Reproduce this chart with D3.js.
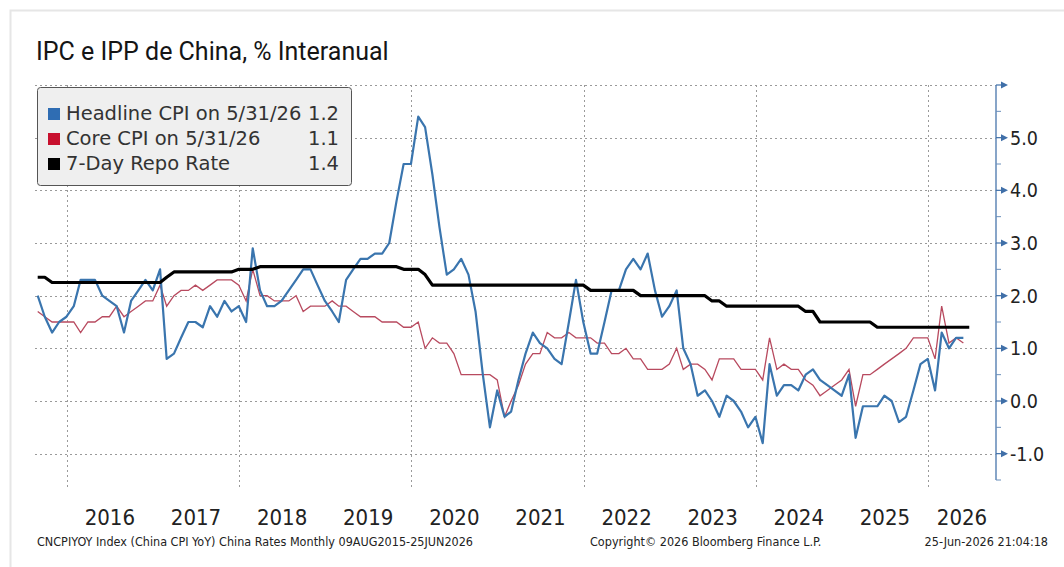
<!DOCTYPE html>
<html lang="es">
	<head>
		<meta charset="utf-8">
		<title>IPC e IPP de China</title>
		<script src="https://d3js.org/d3.v7.min.js"></script>
		<style>
			body { margin: 0; background: white; }
			.grid { stroke: #9a9a9a; stroke-width: 1; stroke-dasharray: 2,3; }
			.lbl { font-family: "DejaVu Sans Condensed", "DejaVu Sans", sans-serif; fill: #222; }
			.leg { font-family: "DejaVu Sans", sans-serif; font-size: 19.5px; fill: #333; }
		</style>
	</head>
	<body>
		<script type="text/javascript">

			//    Data: monthly, first value = Aug 2015 (plotted at month end)
			var startYear = 2015, startMonth = 7;
			var headlineCpi = [
				2.0, 1.6, 1.3, 1.5, 1.6,
				1.8, 2.3, 2.3, 2.3, 2.0, 1.9, 1.8, 1.3, 1.9, 2.1, 2.3, 2.1,
				2.5, 0.8, 0.9, 1.2, 1.5, 1.5, 1.4, 1.8, 1.6, 1.9, 1.7, 1.8,
				1.5, 2.9, 2.1, 1.8, 1.8, 1.9, 2.1, 2.3, 2.5, 2.5, 2.2, 1.9,
				1.7, 1.5, 2.3, 2.5, 2.7, 2.7, 2.8, 2.8, 3.0, 3.8, 4.5, 4.5,
				5.4, 5.2, 4.3, 3.3, 2.4, 2.5, 2.7, 2.4, 1.7, 0.5, -0.5, 0.2,
				-0.3, -0.2, 0.4, 0.9, 1.3, 1.1, 1.0, 0.8, 0.7, 1.5, 2.3, 1.5,
				0.9, 0.9, 1.5, 2.1, 2.1, 2.5, 2.7, 2.5, 2.8, 2.1, 1.6, 1.8,
				2.1, 1.0, 0.7, 0.1, 0.2, 0.0, -0.3, 0.1, 0.0, -0.2, -0.5, -0.3,
				-0.8, 0.7, 0.1, 0.3, 0.3, 0.2, 0.5, 0.6, 0.4, 0.3, 0.2, 0.1,
				0.5, -0.7, -0.1, -0.1, -0.1, 0.1, 0.0, -0.4, -0.3, 0.2, 0.7, 0.8,
				0.2, 1.3, 1.0, 1.2, 1.2
			];
			var coreCpi = [
				1.7, 1.6, 1.5, 1.5, 1.5,
				1.5, 1.3, 1.5, 1.5, 1.6, 1.6, 1.8, 1.6, 1.7, 1.8, 1.9, 1.9,
				2.2, 1.8, 2.0, 2.1, 2.1, 2.2, 2.1, 2.2, 2.3, 2.3, 2.3, 2.2,
				1.9, 2.5, 2.0, 2.0, 1.9, 1.9, 1.9, 2.0, 1.7, 1.8, 1.8, 1.8,
				1.9, 1.8, 1.8, 1.7, 1.6, 1.6, 1.6, 1.5, 1.5, 1.5, 1.4, 1.4,
				1.5, 1.0, 1.2, 1.1, 1.1, 0.9, 0.5, 0.5, 0.5, 0.5, 0.5, 0.4,
				-0.3, 0.0, 0.3, 0.7, 0.9, 0.9, 1.3, 1.2, 1.2, 1.3, 1.2, 1.2,
				1.2, 1.1, 1.1, 0.9, 0.9, 1.0, 0.8, 0.8, 0.6, 0.6, 0.6, 0.7,
				1.0, 0.6, 0.7, 0.7, 0.6, 0.4, 0.8, 0.8, 0.8, 0.6, 0.6, 0.6,
				0.4, 1.2, 0.6, 0.7, 0.6, 0.6, 0.4, 0.3, 0.1, 0.2, 0.3, 0.4,
				0.6, -0.1, 0.5, 0.5, 0.6, 0.7, 0.8, 0.9, 1.0, 1.2, 1.2, 1.2,
				0.8, 1.8, 1.1, 1.2, 1.1
			];
			var repoRate = [
				2.35, 2.35, 2.25, 2.25, 2.25,
				2.25, 2.25, 2.25, 2.25, 2.25, 2.25, 2.25, 2.25, 2.25, 2.25, 2.25, 2.25,
				2.25, 2.35, 2.45, 2.45, 2.45, 2.45, 2.45, 2.45, 2.45, 2.45, 2.45, 2.5,
				2.5, 2.5, 2.55, 2.55, 2.55, 2.55, 2.55, 2.55, 2.55, 2.55, 2.55, 2.55,
				2.55, 2.55, 2.55, 2.55, 2.55, 2.55, 2.55, 2.55, 2.55, 2.55, 2.5, 2.5,
				2.5, 2.4, 2.2, 2.2, 2.2, 2.2, 2.2, 2.2, 2.2, 2.2, 2.2, 2.2,
				2.2, 2.2, 2.2, 2.2, 2.2, 2.2, 2.2, 2.2, 2.2, 2.2, 2.2, 2.2,
				2.1, 2.1, 2.1, 2.1, 2.1, 2.1, 2.1, 2.0, 2.0, 2.0, 2.0, 2.0,
				2.0, 2.0, 2.0, 2.0, 2.0, 1.9, 1.9, 1.8, 1.8, 1.8, 1.8, 1.8,
				1.8, 1.8, 1.8, 1.8, 1.8, 1.8, 1.7, 1.7, 1.5, 1.5, 1.5, 1.5,
				1.5, 1.5, 1.5, 1.5, 1.4, 1.4, 1.4, 1.4, 1.4, 1.4, 1.4, 1.4,
				1.4, 1.4, 1.4, 1.4, 1.4, 1.4
			];

			//    Tick labels / legend
			var yTicks = [-1, 0, 1, 2, 3, 4, 5, 6];
			var yMinor = [-1.5, -0.5, 0.5, 1.5, 2.5, 3.5, 4.5, 5.5];
			var yearLabels = [2016, 2017, 2018, 2019, 2020, 2021, 2022, 2023, 2024, 2025, 2026];
			var gridYears = [2016, 2018, 2020, 2022, 2024, 2026];
			var legendNames = ["Headline CPI on 5/31/26", "Core CPI on 5/31/26", "7-Day Repo Rate"];
			var legendValues = ["1.2", "1.1", "1.4"];
			var legendColors = ["#2f6db3", "#c8102e", "#000000"];

			var w = 1064, h = 567;
			var plotLeft = 35, plotRight = 996, plotTop = 85, plotBottom = 480;

			//    Scales
			var x_scale = d3.scaleTime()
				.domain([new Date(2016, 0, 1), new Date(2026, 0, 1)])
				.range([66.7, 928]);
			var y_scale = d3.scaleLinear().domain([-1.5, 6]).range([plotBottom, plotTop]);

			function monthEnd(i) { return new Date(startYear, startMonth + i + 1, 0); }
			function toPoints(arr) {
				return arr.map(function(v, i) { return { date: monthEnd(i), value: v }; });
			}

			var svg = d3.select("body").append("svg").attr("width", w).attr("height", h);
			svg.append("rect").attr("width", w).attr("height", h).attr("fill", "white");

			//    Card frame
			svg.append("rect").attr("x", 10.5).attr("y", 10.5).attr("width", 1100).attr("height", 620)
				.attr("fill", "none").attr("stroke", "#e6e6e6").attr("stroke-width", 2);

			//    Title
			svg.append("text").attr("x", 36).attr("y", 60).text("IPC e IPP de China, % Interanual")
				.style("font-family", "Roboto, sans-serif").style("font-size", "25px").attr("fill", "#151515");

			//    Grid
			svg.append("g").selectAll("line").data(yTicks).enter().append("line")
				.attr("class", "grid")
				.attr("x1", plotLeft).attr("x2", plotRight)
				.attr("y1", function(d) { return Math.round(y_scale(d)) + 0.5; })
				.attr("y2", function(d) { return Math.round(y_scale(d)) + 0.5; });
			svg.append("g").selectAll("line").data(gridYears).enter().append("line")
				.attr("class", "grid")
				.attr("x1", function(d) { return Math.round(x_scale(new Date(d, 0, 1))) + 0.5; })
				.attr("x2", function(d) { return Math.round(x_scale(new Date(d, 0, 1))) + 0.5; })
				.attr("y1", plotTop).attr("y2", plotBottom + 8);

			//    Lines
			var line = d3.line()
				.x(function(d) { return x_scale(d.date); })
				.y(function(d) { return y_scale(d.value); });

			svg.append("path").datum(toPoints(coreCpi)).attr("d", line)
				.attr("fill", "none").attr("stroke", "#b84a5f").attr("stroke-width", 1.3);
			svg.append("path").datum(toPoints(headlineCpi)).attr("d", line)
				.attr("fill", "none").attr("stroke", "#3a75ae").attr("stroke-width", 2.2)
				.attr("stroke-linejoin", "round");
			var repoPts = toPoints(repoRate);
			repoPts[repoPts.length - 1].date = new Date(2026, 5, 25);
			svg.append("path").datum(repoPts).attr("d", line)
				.attr("fill", "none").attr("stroke", "#000").attr("stroke-width", 3.2)
				.attr("stroke-linejoin", "round");

			//    Right axis
			var axisColor = "#6a8fbb";
			svg.append("line").attr("x1", plotRight).attr("x2", plotRight).attr("y1", plotTop).attr("y2", plotBottom)
				.attr("stroke", axisColor).attr("stroke-width", 1.6);
			svg.append("g").selectAll("line").data(yMinor).enter().append("line")
				.attr("x1", plotRight).attr("x2", plotRight + 5)
				.attr("y1", function(d) { return y_scale(d); })
				.attr("y2", function(d) { return y_scale(d); })
				.attr("stroke", axisColor).attr("stroke-width", 1);
			var ticks = svg.append("g").selectAll("g").data(yTicks).enter().append("g")
				.attr("transform", function(d) { return "translate(" + plotRight + "," + y_scale(d) + ")"; });
			ticks.append("line").attr("x1", 0).attr("x2", 6).attr("stroke", "#3f6fa8").attr("stroke-width", 1.2);
			ticks.append("path").attr("d", "M5,-3.5L12,0L5,3.5Z").attr("fill", "#3f6fa8");
			ticks.filter(function(d) { return d < 6; }).append("text")
				.attr("class", "lbl").attr("x", 14).attr("y", 7)
				.style("font-size", "19.5px")
				.text(function(d) { return d3.format(".1f")(d).replace("\u2212", "-"); });

			//    Year labels centred on each year
			svg.append("g").selectAll("text").data(yearLabels).enter().append("text")
				.attr("class", "lbl")
				.attr("x", function(d) {
					var a = x_scale(new Date(d, 0, 1));
					var b = Math.min(x_scale(new Date(d + 1, 0, 1)), plotRight);
					return (a + b) / 2;
				})
				.attr("y", 525).attr("text-anchor", "middle")
				.style("font-size", "22px").attr("fill", "#111")
				.text(function(d) { return d; });

			//    Legend
			var leg = svg.append("g");
			leg.append("rect").attr("x", 37.5).attr("y", 87.5).attr("width", 314).attr("height", 98)
				.attr("rx", 3).attr("fill", "#efefef").attr("stroke", "#555").attr("stroke-width", 1);
			legendNames.forEach(function(name, i) {
				var yy = 120 + i * 25;
				leg.append("rect").attr("x", 48).attr("y", yy - 12).attr("width", 12).attr("height", 12)
					.attr("fill", legendColors[i]);
				leg.append("text").attr("class", "leg").attr("x", 66).attr("y", yy).text(name);
				leg.append("text").attr("class", "leg").attr("x", 339).attr("y", yy)
					.attr("text-anchor", "end").text(legendValues[i]);
			});

			//    Footer
			svg.append("text").attr("class", "lbl").attr("x", 37).attr("y", 546).style("font-size", "12.5px")
				.attr("fill", "#333").text("CNCPIYOY Index (China CPI YoY) China Rates Monthly 09AUG2015-25JUN2026");
			svg.append("text").attr("class", "lbl").attr("x", 590).attr("y", 546).style("font-size", "12.5px")
				.attr("fill", "#333").text("Copyright\u00a9 2026 Bloomberg Finance L.P.");
			svg.append("text").attr("class", "lbl").attr("x", 1048).attr("y", 546).style("font-size", "12.5px")
				.attr("text-anchor", "end").attr("fill", "#333").text("25-Jun-2026 21:04:18");

		</script>
	</body>
</html>
